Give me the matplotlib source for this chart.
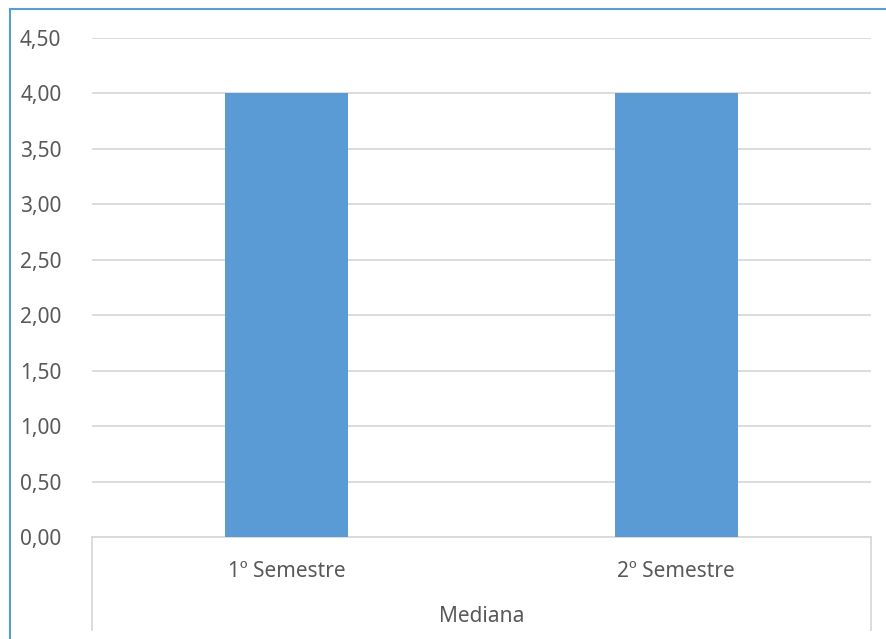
import matplotlib.pyplot as plt
from matplotlib.lines import Line2D
from matplotlib.ticker import FuncFormatter

# Median score per semester
categories = ["1º Semestre", "2º Semestre"]
medians = [4.0, 4.0]
group_label = "Mediana"
y_ticks = [0, 0.5, 1.0, 1.5, 2.0, 2.5, 3.0, 3.5, 4.0, 4.5]

plt.rcParams["font.family"] = ["Noto Sans", "DejaVu Sans"]
text_color = "#595959"
grid_color = "#D9D9D9"

W, H = 886, 639
fig = plt.figure(figsize=(W / 100, H / 100), dpi=100)
ax = fig.add_axes([92 / W, (H - 537) / H, (871 - 92) / W, (537 - 38) / H])

x = list(range(len(categories)))
ax.bar(x, medians, width=0.316, color="#5B9BD5", zorder=3)

ax.set_xlim(-0.5, len(categories) - 0.5)
ax.set_ylim(0, 4.5)
ax.set_yticks(y_ticks)
ax.yaxis.set_major_formatter(FuncFormatter(lambda v, p: f"{v:.2f}".replace(".", ",")))
ax.set_xticks(x, categories)
ax.tick_params(axis="y", length=0, pad=22, labelsize=15, labelcolor=text_color)
ax.tick_params(axis="x", length=0, pad=17, labelsize=15, labelcolor=text_color)

ax.grid(axis="y", color=grid_color, linewidth=1.3, zorder=0)
for side in ["top", "left", "right"]:
    ax.spines[side].set_visible(False)
ax.spines["bottom"].set_color(grid_color)
ax.spines["bottom"].set_linewidth(1.3)

# outer separators of the category axis
sep_bottom = (537 - 630) / (537 - 38)
for xa in (0, 1):
    ax.plot([xa, xa], [0, sep_bottom], transform=ax.transAxes, color=grid_color,
            linewidth=1.3, clip_on=False)

ax.text(0.5, (537 - 617) / (537 - 38), group_label, transform=ax.transAxes,
        ha="center", va="center", fontsize=15, color=text_color)

# chart area border
border = "#5B9BD5"
fig.add_artist(Line2D([9.5 / W, 9.5 / W], [0, 1 - 8.5 / H], color=border, linewidth=1.5))
fig.add_artist(Line2D([9.5 / W, 1], [1 - 8.5 / H, 1 - 8.5 / H], color=border, linewidth=1.5))

fig.savefig("out.png", dpi=100, facecolor="white")
